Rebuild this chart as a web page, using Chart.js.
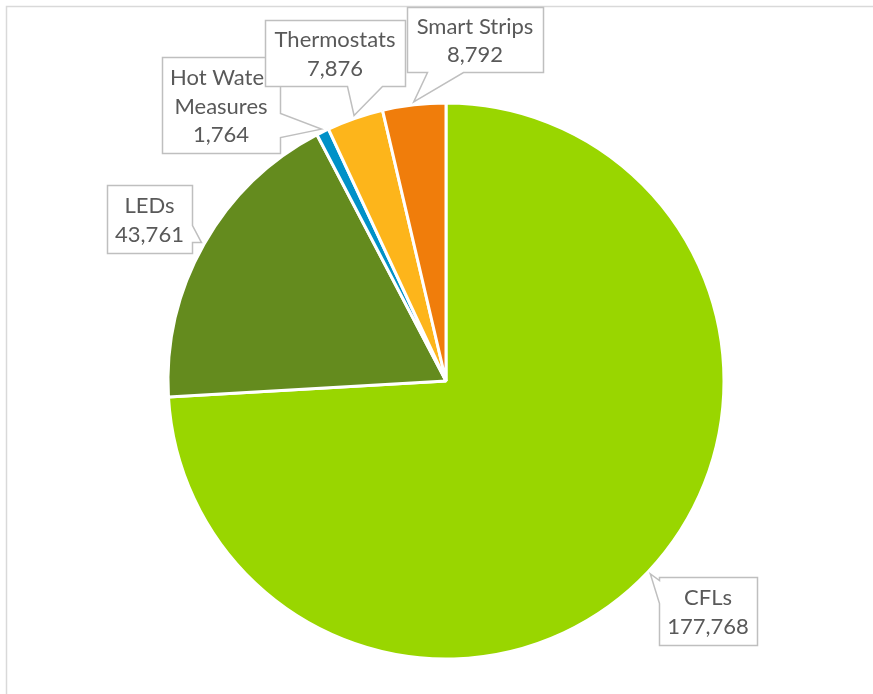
<!DOCTYPE html>
<html><head><meta charset="utf-8">
<script src="https://cdn.jsdelivr.net/npm/chart.js@4"></script>
<style>html,body{margin:0;padding:0;background:#fff;}#wrap{width:873px;height:694px;}</style>
</head><body><div id="wrap"><canvas id="c" width="873" height="694"></canvas></div>
<script>
const categories = ["CFLs", "LEDs", "Hot Water Measures", "Thermostats", "Smart Strips"];
const labelLines = [["CFLs"], ["LEDs"], ["Hot Water", "Measures"], ["Thermostats"], ["Smart Strips"]];
const values = [177768, 43761, 1764, 7876, 8792];
const colors = ["#99D600", "#648B1E", "#0091C8", "#FDB51B", "#F07D0B"];

// callout box layout (x, y, w, h), side the pointer leaves from, and pointer base span
const calloutLayout = [
  {x: 659, y: 577, w: 98, h: 68, side: "left", a: 3, b: 26},
  {x: 107, y: 185, w: 85, h: 68, side: "right", a: 40, b: 57},
  {x: 162, y: 57, w: 118, h: 96, side: "right", a: 56, b: 80},
  {x: 265, y: 20, w: 140, h: 66, side: "bottom", a: 82, b: 117},
  {x: 407, y: 7, w: 136, h: 65, side: "bottom", a: 20, b: 56}
];
const drawOrder = [0, 1, 2, 3, 4];

const fmt = v => v.toLocaleString("en-US");

const calloutPlugin = {
  id: "callouts",
  beforeDraw(chart) {
    const ctx = chart.ctx;
    ctx.save();
    ctx.strokeStyle = "#d9d9d9";
    ctx.lineWidth = 1.5;
    ctx.beginPath();
    ctx.moveTo(6.5, 1000); ctx.lineTo(6.5, 6.5); ctx.lineTo(1000, 6.5);
    ctx.stroke();
    ctx.restore();
  },
  afterDraw(chart) {
    const ctx = chart.ctx;
    const meta = chart.getDatasetMeta(0);
    ctx.save();
    drawOrder.forEach(i => {
      const arc = meta.data[i];
      const p = arc.getProps(["x", "y", "startAngle", "endAngle", "outerRadius"], true);
      const mid = (p.startAngle + p.endAngle) / 2;
      const r = p.outerRadius + 3;
      const tx = p.x + Math.cos(mid) * r;
      const ty = p.y + Math.sin(mid) * r;
      const L = calloutLayout[i];
      const x0 = L.x + 0.5, y0 = L.y + 0.5, x1 = L.x + L.w + 0.5, y1 = L.y + L.h + 0.5;
      ctx.beginPath();
      if (L.side === "bottom") {
        ctx.moveTo(x0, y0); ctx.lineTo(x1, y0); ctx.lineTo(x1, y1);
        ctx.lineTo(L.x + L.b + 0.5, y1); ctx.lineTo(tx, ty); ctx.lineTo(L.x + L.a + 0.5, y1);
        ctx.lineTo(x0, y1); ctx.closePath();
      } else if (L.side === "right") {
        ctx.moveTo(x0, y0); ctx.lineTo(x1, y0); ctx.lineTo(x1, L.y + L.a + 0.5);
        ctx.lineTo(tx, ty); ctx.lineTo(x1, L.y + L.b + 0.5); ctx.lineTo(x1, y1);
        ctx.lineTo(x0, y1); ctx.closePath();
      } else {
        ctx.moveTo(x0, y0); ctx.lineTo(x1, y0); ctx.lineTo(x1, y1); ctx.lineTo(x0, y1);
        ctx.lineTo(x0, L.y + L.b + 0.5); ctx.lineTo(tx, ty); ctx.lineTo(x0, L.y + L.a + 0.5);
        ctx.closePath();
      }
      ctx.fillStyle = "#ffffff";
      ctx.fill();
      ctx.strokeStyle = "#bfbfbf";
      ctx.lineWidth = 1.5;
      ctx.lineJoin = "miter";
      ctx.stroke();
      const lines = labelLines[i].concat([fmt(values[i])]);
      const lh = 28.5;
      const cx = L.x + L.w / 2;
      const cy = L.y + L.h / 2 + 1.5;
      ctx.save();
      ctx.beginPath();
      ctx.rect(L.x + 1, L.y + 1, L.w - 1, L.h - 1);
      ctx.clip();
      ctx.fillStyle = "#595959";
      ctx.font = "22px Lato";
      ctx.textAlign = "center";
      ctx.textBaseline = "middle";
      lines.forEach((t, k) => {
        ctx.fillText(t, cx, cy + (k - (lines.length - 1) / 2) * lh);
      });
      ctx.restore();
    });
    ctx.restore();
  }
};

new Chart(document.getElementById("c"), {
  type: "pie",
  data: {
    labels: categories,
    datasets: [{
      data: values,
      backgroundColor: colors,
      borderColor: "#ffffff",
      borderWidth: 3
    }]
  },
  options: {
    responsive: false,
    animation: false,
    radius: 278,
    layout: {padding: {left: 100, right: 81, top: 100, bottom: 32}},
    plugins: {legend: {display: false}, tooltip: {enabled: false}}
  },
  plugins: [calloutPlugin]
});
</script>
</body></html>
